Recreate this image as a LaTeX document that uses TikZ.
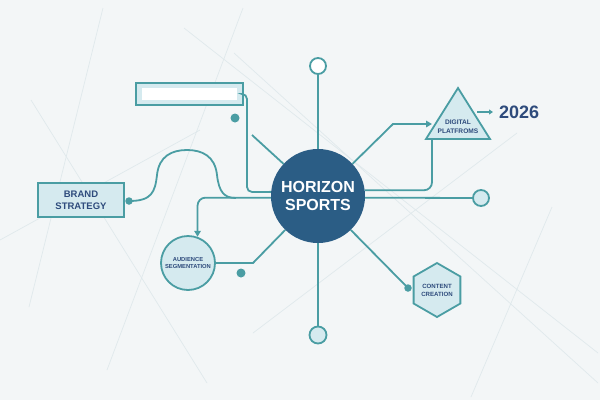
\documentclass[tikz,border=0pt]{standalone}
\usepackage{fontspec}
\setmainfont{Liberation Sans}
\usetikzlibrary{arrows.meta,shapes.geometric}
\definecolor{bg}{HTML}{F3F6F7}
\definecolor{tl}{HTML}{4A9DA3}
\definecolor{lf}{HTML}{D5EAEF}
\definecolor{hubc}{HTML}{2B5D85}
\definecolor{ink}{HTML}{2E4B7C}
\definecolor{faint}{HTML}{E0E9EC}
\tikzset{
  conn/.style={draw=tl, line width=1.8pt},
  shp/.style={draw=tl, fill=lf, line width=1.8pt},
  lbl/.style={text=ink, font=\bfseries, align=center, inner sep=0pt},
  dotn/.style={circle, fill=tl, minimum size=9pt, inner sep=0pt},
  sdot/.style={circle, fill=tl, minimum size=7.5pt, inner sep=0pt},
  endc/.style={circle, draw=tl, line width=1.8pt, minimum size=16pt, inner sep=0pt},
  arr/.style={-{Triangle[length=6pt,width=6.5pt]}},
  bgline/.style={draw=faint, line width=0.7pt}
}
\begin{document}
\begin{tikzpicture}[x=1pt,y=-1pt]
\fill[bg] (0,0) rectangle (600,400);
\useasboundingbox (0,0) rectangle (600,400);
% faint background lines
\draw[bgline] (103,8) -- (29,307);
\draw[bgline] (243,8) -- (107,370);
\draw[bgline] (184,28) -- (598,353);
\draw[bgline] (31,100) -- (207,383);
\draw[bgline] (253,333) -- (517,133);
\draw[bgline] (552,207) -- (471,397);
\draw[bgline] (234,53) -- (598,383);
\draw[bgline] (0,240) -- (200,130);

% hub
\node[circle, fill=hubc, minimum size=94pt, inner sep=0pt, text=white,
      font=\bfseries\fontsize{16}{18}\selectfont, align=center] (hub) at (318,196) {HORIZON\\SPORTS};

% end circles
\node[endc, fill=white] (top) at (318,66) {};
\node[endc, fill=lf, minimum size=17pt] (bot) at (318,335) {};
\node[endc, fill=lf] (rc) at (481,198) {};
\draw[conn] (hub.north) -- (top.south);
\draw[conn] (hub.south) -- (bot.north);
\draw[conn] (hub.-2.4) -- (rc.west);

% blank box top-left
\node[shp, minimum width=107pt, minimum height=22pt, inner sep=0pt] (blank) at (189.5,94) {};
\fill[white] (142,88) rectangle (237,100);
\draw[conn, rounded corners=5pt] (blank.east) -| (247,192) -- (hub.175);
\node[dotn] (d1) at (235,118) {};
\coordinate (c1) at (252,135);
\draw[conn] (c1) -- (hub.137);

% brand strategy
\node[shp, minimum width=86pt, minimum height=34pt, inner sep=0pt, lbl,
      font=\bfseries\fontsize{9.5}{12}\selectfont] (brand) at (81,200) {BRAND\\STRATEGY};
\node[sdot] (d2) at (129,201) {};
\coordinate (m1) at (236,198);
\draw[conn] (d2.center) .. controls (152,201) and (155,192) .. (157,175)
   .. controls (159,156) and (172,150) .. (187,150)
   .. controls (202,150) and (215,156) .. (217,175)
   .. controls (219,192) and (224,198) .. (m1);

% audience segmentation
\node[circle, shp, minimum size=54pt, inner sep=0pt] (aud) at (188,263) {};
\node[lbl, font=\bfseries\fontsize{5.8}{7.5}\selectfont] at (aud) {AUDIENCE\\SEGMENTATION};
\draw[conn, arr, rounded corners=8pt] (hub.182.4) -| (aud.70);
\draw[conn] (aud.east) -- (253,263) -- (hub.226);
\node[dotn] (d3) at (241,273) {};

% digital platforms
\coordinate (ta) at (458,88);
\coordinate (tr) at (490,139);
\coordinate (tlft) at (426,139);
\draw[shp, line join=miter] (ta) -- (tr) -- (tlft) -- cycle;
\node[lbl, font=\bfseries\fontsize{6.6}{8.5}\selectfont] (dp) at (458,126.5) {DIGITAL\\PLATFROMS};
\coordinate (tin) at (432,124);
\draw[conn, arr] (hub.43) -- (393,124) -- (tin);
\coordinate (tb) at (432,139);
\draw[conn, rounded corners=8pt] (tb) |- (hub.7.3);

% 2026
\node[text=ink, font=\bfseries\fontsize{18}{18}\selectfont, anchor=west, inner sep=0pt] (yr) at (499,112) {2026};
\coordinate (ya) at (477,112);
\draw[conn, -{Triangle[length=4pt,width=5pt]}, line width=1.4pt] (ya) -- ([xshift=-6pt]yr.west);

% content creation
\node[regular polygon, regular polygon sides=6, shape border rotate=30, shp,
      minimum size=54pt, inner sep=0pt] (cc) at (437,290) {};
\node[lbl, font=\bfseries\fontsize{6.1}{8}\selectfont] at (cc) {CONTENT\\CREATION};
\node[sdot] (d4) at (408,288) {};
\draw[conn] (hub.-46) -- (d4.center);
\end{tikzpicture}
\end{document}
